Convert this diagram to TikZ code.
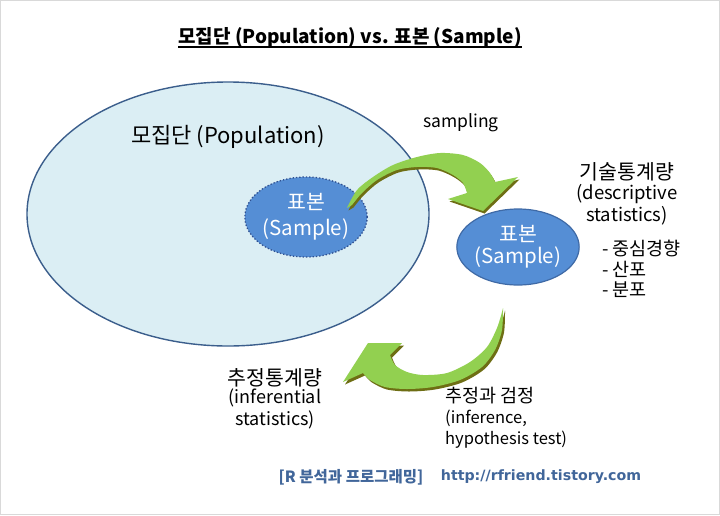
\documentclass[tikz,border=0pt]{standalone}
\usepackage{fontspec}
\setmainfont{Noto Sans CJK KR}
\newfontfamily\footlatin{DejaVu Sans}
\usetikzlibrary{shapes.geometric}
\definecolor{popfill}{HTML}{DBEEF4}
\definecolor{popline}{HTML}{3B5E8C}
\definecolor{smpfill}{HTML}{558ED5}
\definecolor{smpline}{HTML}{3F6AA6}
\definecolor{dotline}{HTML}{2F4F8F}
\definecolor{arrgreen}{HTML}{92D050}
\definecolor{arrshadow}{HTML}{6E6E14}
\definecolor{footcol}{HTML}{41669A}
\definecolor{framecol}{HTML}{D9D9D9}
\tikzset{
  lbl/.style={inner sep=0pt, align=center},
}
\begin{document}
\begin{tikzpicture}[x=1pt,y=-1pt]
\useasboundingbox (0,0) rectangle (720,515);
\fill[white] (0,0) rectangle (720,515);
\draw[framecol, line width=1pt] (0.5,0.5) rectangle (719.5,514.5);

% title
\node[lbl, font=\fontsize{19}{22}\selectfont\bfseries] (title) at (350,37) {모집단 (Population) vs. 표본 (Sample)};
\draw[line width=1.2pt] ([yshift=-4pt]title.base west) -- ([yshift=-4pt]title.base east);

% population
\node[ellipse, draw=popline, fill=popfill, line width=1.4pt, minimum width=402pt, minimum height=264pt, inner sep=0pt] (pop) at (228,214) {};
\node[lbl, font=\fontsize{22}{26}\selectfont] (poplbl) at (228,137) {모집단 (Population)};

% inner sample
\node[ellipse, draw=dotline, fill=smpfill, line width=1.3pt, dotted, minimum width=108pt, minimum height=80pt, inner sep=0pt, text=white, align=center, font=\fontsize{20.5}{26}\selectfont] (inner) at (306,217) {표본\\(Sample)};

% outer sample
\node[ellipse, draw=smpline, fill=smpfill, line width=1.2pt, minimum width=110pt, minimum height=76pt, inner sep=0pt, text=white, align=center, font=\fontsize{20.5}{22}\selectfont] (outer) at (518,247) {표본\\(Sample)};

% sampling arrow
\def\samplingarrow{(347,208) -- plot[smooth] coordinates {(347,208) (357,190) (373,177) (393,165) (417,157) (440,153) (463,155) (480,163) (490,173) (495,182)} -- (518,177) -- (483,211) -- (448,199) -- (467,193) -- plot[smooth] coordinates {(467,193) (463,183) (453,175) (437,168) (417,167) (397,170) (377,180) (362,193) (352,205)} -- cycle}
\fill[arrshadow, shift={(1.5,2.5)}] \samplingarrow;
\fill[arrgreen] \samplingarrow;

% inference arrow
\def\inferarrow{(503,308) -- plot[smooth] coordinates {(503,308) (502,330) (495,350) (482,367) (460,380) (433,387) (407,389) (385,387) (370,380) (363,373)} -- (343,382) -- (368,343) -- (402,343) -- (390,355) -- plot[smooth] coordinates {(390,355) (395,365) (407,372) (423,375) (447,373) (470,362) (487,347) (497,328) (502,312)} -- cycle}
\fill[arrshadow, shift={(2,2.5)}] \inferarrow;
\fill[arrgreen] \inferarrow;

% labels
\node[lbl, font=\fontsize{17.5}{20}\selectfont] (samplbl) at (461,123) {sampling};
\node[lbl, font=\fontsize{20.5}{22}\selectfont] (desc) at (627,172) {기술통계량};
\node[lbl, font=\fontsize{18.5}{22}\selectfont, anchor=north] (desc2) at (627,184) {(descriptive\\statistics)};
\node[lbl, font=\fontsize{18.5}{20.5}\selectfont, align=left, anchor=north west] (desclist) at (602,240) {- 중심경향\\- 산포\\- 분포};

\node[lbl, font=\fontsize{20.5}{22}\selectfont] (inf) at (275,378) {추정통계량};
\node[lbl, font=\fontsize{18}{22}\selectfont, anchor=north] (inf2) at (275,389) {(inferential\\statistics)};

\node[lbl, align=left, anchor=north west, font=\fontsize{16.5}{21}\selectfont] (test) at (445,387) {{\fontsize{18.5}{21}\selectfont 추정과 검정}\\(inference,\\hypothesis test)};

% footer
\node[lbl, font=\fontsize{15.5}{18}\selectfont\bfseries, text=footcol] (foot1) at (351,477) {[R 분석과 프로그래밍]};
\node[lbl, font=\footlatin\fontsize{14.2}{17}\selectfont\bfseries, text=footcol] (foot2) at (541,477) {http://rfriend.tistory.com};
\end{tikzpicture}
\end{document}
